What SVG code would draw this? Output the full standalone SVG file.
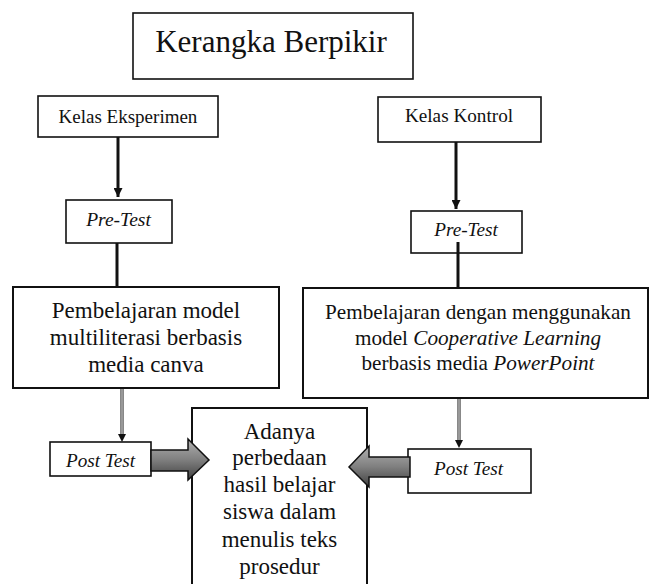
<svg xmlns="http://www.w3.org/2000/svg" width="649" height="584" viewBox="0 0 649 584">
<defs>
<style>
.box{fill:#fff;stroke:#111;stroke-width:1.6}
.bbox{fill:#fff;stroke:#111;stroke-width:2}
.t{fill:#111;text-anchor:middle}
.it{font-style:italic}
.thick{stroke:#111;stroke-width:3;fill:none}
.gout{stroke:#555;stroke-width:3.4;fill:none}
.gin{stroke:#ddd;stroke-width:1;fill:none}
.blk{fill:url(#gg);stroke:#111;stroke-width:1.5;stroke-linejoin:miter}
</style>
<linearGradient id="gg" x1="0" y1="0" x2="0" y2="1">
<stop offset="0" stop-color="#b0b0b0"/>
<stop offset="0.5" stop-color="#808080"/>
<stop offset="1" stop-color="#404040"/>
</linearGradient>
<marker id="ah" viewBox="0 0 10 10" refX="10" refY="5" markerWidth="3" markerHeight="3" orient="auto" markerUnits="strokeWidth">
<path d="M0,0 L10,5 L0,10 z" fill="#111"/>
</marker>
</defs>

<g id="connectors">
<line class="thick" x1="118" y1="137" x2="118" y2="197" marker-end="url(#ah)"/>
<line class="thick" x1="117" y1="243" x2="117" y2="287"/>
<line class="thick" x1="456" y1="142" x2="456" y2="209" marker-end="url(#ah)"/>
<line class="thick" x1="458" y1="242" x2="458" y2="288"/>
<line class="gout" x1="122" y1="388" x2="122" y2="436"/>
<line class="gin" x1="122" y1="388" x2="122" y2="434"/>
<path d="M118,434 L126,434 L122,442 z" fill="#111"/>
<line class="gout" x1="459" y1="399" x2="459" y2="442"/>
<line class="gin" x1="459" y1="399" x2="459" y2="440"/>
<path d="M455,440 L463,440 L459,448 z" fill="#111"/>
</g>

<g font-family="'Liberation Serif', 'DejaVu Serif', 'Times New Roman', serif">
<g id="title">
<rect class="box" x="133" y="13" width="280" height="66"/>
<text class="t" x="271" y="52" font-size="31">Kerangka Berpikir</text>
</g>

<g id="kelas-eksperimen">
<rect class="box" x="38" y="96" width="180" height="41"/>
<text class="t" x="128" y="123" font-size="19">Kelas Eksperimen</text>
</g>

<g id="pretest-left">
<rect class="box" x="66" y="200" width="106" height="43"/>
<text class="t it" x="118.5" y="226" font-size="19.5">Pre-Test</text>
</g>

<g id="pembelajaran-left">
<rect class="bbox" x="13" y="287" width="266" height="101"/>
<text class="t" font-size="23"><tspan x="146" y="318">Pembelajaran model</tspan><tspan x="146" y="345">multiliterasi berbasis</tspan><tspan x="146" y="372">media canva</tspan></text>
</g>

<g id="posttest-left">
<rect class="box" x="50" y="442" width="101" height="34"/>
<text class="t it" x="100.5" y="467" font-size="19.2">Post Test</text>
</g>

<g id="kelas-kontrol">
<rect class="box" x="378" y="97" width="163" height="45"/>
<text class="t" x="459" y="122" font-size="19.2">Kelas Kontrol</text>
</g>

<g id="pretest-right">
<rect class="box" x="411" y="211" width="111" height="42"/>
<text class="t it" x="466" y="236" font-size="19.2">Pre-Test</text>
<line class="thick" x1="458" y1="242" x2="458" y2="253"/>
</g>

<g id="pembelajaran-right">
<rect class="bbox" x="303" y="288" width="345" height="110"/>
<text class="t" font-size="21.2"><tspan x="478" y="319">Pembelajaran dengan menggunakan</tspan><tspan x="478" y="345">model <tspan class="it">Cooperative Learning</tspan></tspan><tspan x="478" y="370">berbasis media <tspan class="it">PowerPoint</tspan></tspan></text>
</g>

<g id="posttest-right">
<rect class="box" x="408" y="449" width="123" height="44"/>
<text class="t it" x="468.5" y="475" font-size="19.2">Post Test</text>
</g>

<g id="hasil">
<rect class="bbox" x="192" y="408" width="175" height="190"/>
<text class="t" font-size="23"><tspan x="279.5" y="439">Adanya</tspan><tspan x="279.5" y="465">perbedaan</tspan><tspan x="279.5" y="492">hasil belajar</tspan><tspan x="279.5" y="519">siswa dalam</tspan><tspan x="279.5" y="547">menulis teks</tspan><tspan x="279.5" y="574">prosedur</tspan></text>
</g>
</g>

<g id="block-arrows">
<polygon class="blk" points="151,450 188,450 188,439 209,460 188,480 188,471 151,471"/>
<polygon class="blk" points="410,457 369,457 369,446 349,467 369,487 369,477 410,477"/>
</g>
</svg>
